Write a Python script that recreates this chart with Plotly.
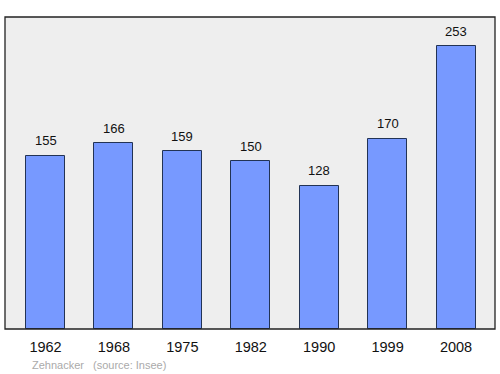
import plotly.graph_objects as go

years = ["1962", "1968", "1975", "1982", "1990", "1999", "2008"]
population = [155, 166, 159, 150, 128, 170, 253]

fig = go.Figure()
fig.add_trace(go.Bar(
    x=list(range(len(years))),
    y=population,
    width=0.57,
    marker=dict(color="#7799ff", line=dict(color="#223355", width=1)),
    hoverinfo="skip",
))

for i, v in enumerate(population):
    fig.add_annotation(x=i, y=v, text=str(v), showarrow=False,
                       xanchor="center", yanchor="middle", yshift=15,
                       font=dict(family="Liberation Sans, Arial, sans-serif",
                                 size=13, color="#111111"))

fig.update_layout(
    width=500, height=374,
    margin=dict(l=5, r=5, t=17, b=45),
    paper_bgcolor="white",
    plot_bgcolor="#eeeeee",
    showlegend=False,
    bargap=0,
    font=dict(family="Liberation Sans, Arial, sans-serif"),
    xaxis=dict(
        range=[-0.592, 6.57],
        tickmode="array",
        tickvals=list(range(len(years))),
        ticktext=years,
        tickfont=dict(size=14.5, color="#111111"),
        showgrid=False, zeroline=False, ticks="", ticklen=0,
        ticklabelstandoff=7,
        showline=False, fixedrange=True,
    ),
    yaxis=dict(
        range=[0, 279],
        showticklabels=False, showgrid=False, zeroline=False,
        showline=False, fixedrange=True,
    ),
    shapes=[dict(
        type="rect", xref="paper", yref="paper", x0=0, y0=0, x1=1, y1=1,
        line=dict(color="#222222", width=1.3), fillcolor="rgba(0,0,0,0)",
        layer="above",
    )],
)

fig.add_annotation(text="Zehnacker", xref="paper", yref="paper",
                   x=(30 - 5) / 490, y=-(365.5 - 329.5) / 312.5,
                   showarrow=False, xanchor="left", yanchor="middle",
                   font=dict(size=11, color="#aaaaaa"))
fig.add_annotation(text="(source: Insee)", xref="paper", yref="paper",
                   x=(91 - 5) / 490, y=-(365.5 - 329.5) / 312.5,
                   showarrow=False, xanchor="left", yanchor="middle",
                   font=dict(size=11, color="#aaaaaa"))

fig.write_html("out.html")
